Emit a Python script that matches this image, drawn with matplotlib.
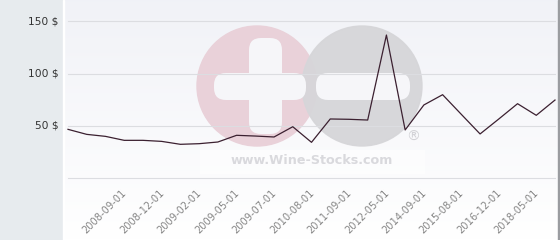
import numpy as np
import matplotlib
matplotlib.use("Agg")
import matplotlib.pyplot as plt
from matplotlib.patches import Circle, FancyBboxPatch, Rectangle

# price series (one point per observation, equally spaced)
prices = [46.8, 42.0, 40.1, 36.3, 36.3, 35.3, 32.5, 33.1, 34.7, 41.1, 40.4, 39.5,
          49.3, 34.4, 56.7, 56.4, 55.7, 136.9, 46.2, 70.1, 79.9, 61.1, 42.4, 56.7,
          71.3, 60.2, 74.8]
tick_pos = [3, 5, 7, 9, 11, 13, 15, 17, 19, 21, 23, 25]
tick_labels = ["2008-09-01", "2008-12-01", "2009-02-01", "2009-05-01", "2009-07-01",
               "2010-08-01", "2011-09-01", "2012-05-01", "2014-09-01", "2015-08-01",
               "2016-12-01", "2018-05-01"]
y_ticks = [0, 50, 100, 150]
y_labels = ["", "50 $", "100 $", "150 $"]

W, H = 560, 240
fig = plt.figure(figsize=(W / 100, H / 100), dpi=100)
fig.patch.set_facecolor("#e7ebee")

# background layer in pixel coords: gradient + watermark
bg = fig.add_axes([0, 0, 1, 1], zorder=0)
bg.set_xlim(0, W)
bg.set_ylim(H, 0)
bg.axis("off")
grad = np.linspace(0, 1, 100).reshape(-1, 1)
top = np.array([0.945, 0.949, 0.969])
bot = np.array([1.0, 1.0, 1.0])
img = top[None, None, :] * (1 - grad[:, :, None]) + bot[None, None, :] * grad[:, :, None]
bg.imshow(img, extent=(64, 558, H, 0), aspect="auto", zorder=0)
bg.add_patch(Rectangle((62.5, 0), 1.5, H, color="white", zorder=1))
bg.add_patch(Rectangle((558, 0), 2, H, color="#9a9ca0", zorder=1))

bg.add_patch(Circle((257, 86), 60, color="#e9d1d9", zorder=2))
bg.add_patch(Circle((362, 86), 60, color="#d6d6d9", zorder=2, alpha=0.95))
for (x0, y0, w, h) in [(214, 73, 92, 27), (249, 38, 33, 96), (316, 73, 94, 27)]:
    bg.add_patch(FancyBboxPatch((x0 + 12, y0 + 12), w - 24, h - 24,
                                boxstyle="round,pad=12", color="#f6f6f9", lw=0, zorder=3))
bg.add_patch(Rectangle((200, 150), 225, 24, color="white", alpha=0.5, lw=0, zorder=2))
bg.text(312, 161, "www.Wine-Stocks.com", fontsize=9.2, fontweight="bold",
        color="#d9d9dd", ha="center", va="center", zorder=4)
bg.text(413, 137, "®", fontsize=10, color="#d2d2d6", ha="center", va="center", zorder=4)

# main chart axes
ax = fig.add_axes([64 / W, 0, (558 - 64) / W, 1], zorder=1)
ax.patch.set_alpha(0)
px = 18.73
ax.set_xlim(-4 / px, 26 + 3 / px)
ax.set_ylim(-(H - 178.33) / 1.0467, 178.33 / 1.0467)
for s in ax.spines.values():
    s.set_visible(False)
ax.set_xticks([])
ax.set_yticks([])

n = len(prices)
for yv in y_ticks:
    ax.plot([0, n - 1], [yv, yv], color="#dcdde1", lw=0.8, zorder=1)
for yv, lab in zip(y_ticks, y_labels):
    ax.text(-0.5, yv, lab, ha="right", va="center", fontsize=7.7, color="#333333",
            transform=ax.transData, clip_on=False)

ax.plot(range(n), prices, color="#3b2030", lw=0.9, zorder=3)

for p, lab in zip(tick_pos, tick_labels):
    ax.text(p + 0.05, -12.0, lab, rotation=45, rotation_mode="anchor", ha="right",
            va="center", fontsize=7.1, color="#858585")

fig.savefig("out.png", dpi=100)
